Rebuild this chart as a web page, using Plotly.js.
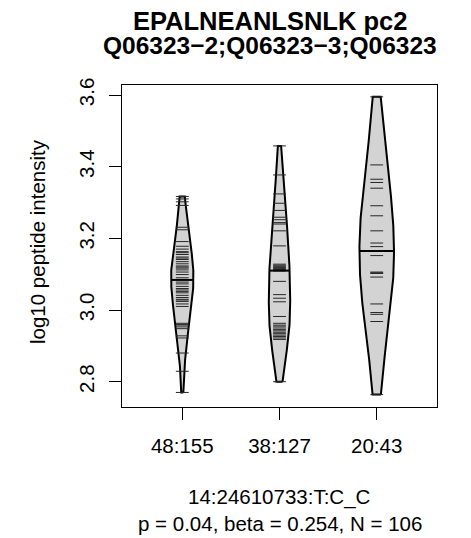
<!DOCTYPE html>
<html>
<head>
<meta charset="utf-8">
<script src="https://cdn.plot.ly/plotly-3.0.1.min.js"></script>
<style>html,body{margin:0;padding:0;background:#fff;}#chart{width:471px;height:538px;}</style>
</head>
<body>
<div id="chart"></div>
<script>
// ---- data ----
const groupPositions = [1, 2, 3];
const groupLabels = ['48:155', '38:127', '20:43'];
const bean1 = [3.317, 3.310, 3.302, 3.292, 3.231, 3.224, 3.191, 3.178, 3.170, 3.163,
  3.160, 3.155, 3.148, 3.145, 3.141, 3.135, 3.129, 3.123, 3.120, 3.117,
  3.112, 3.106, 3.099, 3.090, 3.078, 3.073, 3.066, 3.060, 3.056, 3.052,
  3.048, 3.041, 3.035, 3.030, 3.028, 3.024, 3.017, 3.010, 2.963, 2.960,
  2.958, 2.953, 2.948, 2.928, 2.922, 2.880, 2.829, 2.770];
const bean2 = [3.458, 3.377, 3.324, 3.298, 3.278, 3.259, 3.252, 3.244, 3.240, 3.221,
  3.179, 3.128, 3.125, 3.122, 3.119, 3.117, 3.115, 3.113, 3.111, 3.109,
  3.080, 3.043, 3.033, 3.023, 2.982, 2.963, 2.958, 2.955, 2.950, 2.946,
  2.942, 2.938, 2.934, 2.930, 2.926, 2.922, 2.918, 2.800];
const bean3 = [3.595, 3.405, 3.365, 3.356, 3.340, 3.291, 3.263, 3.221, 3.187, 3.177,
  3.152, 3.106, 3.104, 3.102, 3.092, 3.017, 2.993, 2.988, 2.968, 2.764];
const yTickValues = [2.8, 3.0, 3.2, 3.4, 3.6];
const yTickLabels = ['2.8', '3.0', '3.2', '3.4', '3.6'];
const titleLines = ['EPALNEANLSNLK pc2', 'Q06323\u22122;Q06323\u22123;Q06323'];
const xLabelLines = ['14:24610733:T:C_C', 'p = 0.04, beta = 0.254, N = 106'];
const yLabel = 'log10 peptide intensity';

// ---- style ----
const beans = [bean1, bean2, bean3];
const bandwidths = [0.075, 0.095, 0.165];
const maxHalfWidths = [0.115, 0.11, 0.178];
const lineHalf = 0.066;
const FONT = 'Liberation Sans, Arial, Helvetica, sans-serif';

function kde(data, bw, y) {
  let s = 0;
  for (const v of data) { const z = (y - v) / bw; s += Math.exp(-0.5 * z * z); }
  return s;
}
function median(a) {
  const s = a.slice().sort((p, q) => p - q);
  const n = s.length;
  return n % 2 ? s[(n - 1) / 2] : (s[n / 2 - 1] + s[n / 2]) / 2;
}

const traces = [];
beans.forEach((data, i) => {
  const pos = groupPositions[i];
  const lo = Math.min(...data), hi = Math.max(...data);
  const N = 200;
  const ys = [], ds = [];
  for (let k = 0; k <= N; k++) { const y = lo + (hi - lo) * k / N; ys.push(y); ds.push(kde(data, bandwidths[i], y)); }
  const dmax = Math.max(...ds);
  const hw = ds.map(d => maxHalfWidths[i] * d / dmax);
  const px = [], py = [];
  for (let k = 0; k <= N; k++) { px.push(pos + hw[k]); py.push(ys[k]); }
  for (let k = N; k >= 0; k--) { px.push(pos - hw[k]); py.push(ys[k]); }
  px.push(px[0]); py.push(py[0]);
  traces.push({type: 'scatter', mode: 'lines', x: px, y: py, fill: 'toself',
    fillcolor: '#d3d3d3', line: {color: '#000', width: 2}, hoverinfo: 'skip', showlegend: false});
  const lx = [], ly = [];
  data.forEach(v => { lx.push(pos - lineHalf, pos + lineHalf, null); ly.push(v, v, null); });
  traces.push({type: 'scatter', mode: 'lines', x: lx, y: ly,
    line: {color: '#262626', width: 1}, hoverinfo: 'skip', showlegend: false});
  const m = median(data);
  const mw = maxHalfWidths[i] * kde(data, bandwidths[i], m) / dmax;
  traces.push({type: 'scatter', mode: 'lines', x: [pos - mw, pos + mw], y: [m, m],
    line: {color: '#000', width: 2}, hoverinfo: 'skip', showlegend: false});
});

const L = 122, R = 34, T = 85, B = 131;
const plotH = 538 - T - B, plotW = 471 - L - R;
const py2paper = yPx => (538 - B - yPx) / plotH;
const px2paper = xPx => (xPx - L) / plotW;

const annotations = [
  {text: '<b>' + titleLines[0] + '</b>', x: px2paper(270), y: py2paper(21), xref: 'paper', yref: 'paper',
   xanchor: 'center', yanchor: 'middle', showarrow: false, font: {family: FONT, size: 25.5, color: '#000'}},
  {text: '<b>' + titleLines[1] + '</b>', x: px2paper(270), y: py2paper(46), xref: 'paper', yref: 'paper',
   xanchor: 'center', yanchor: 'middle', showarrow: false, font: {family: FONT, size: 24.5, color: '#000'}},
  {text: xLabelLines[0], x: 0.5, y: py2paper(497), xref: 'paper', yref: 'paper',
   xanchor: 'center', yanchor: 'middle', showarrow: false, font: {family: FONT, size: 20.5, color: '#000'}},
  {text: xLabelLines[1], x: 0.5, y: py2paper(523), xref: 'paper', yref: 'paper',
   xanchor: 'center', yanchor: 'middle', showarrow: false, font: {family: FONT, size: 20.5, color: '#000'}},
  {text: yLabel, x: px2paper(37), y: py2paper(242), xref: 'paper', yref: 'paper', textangle: -90,
   xanchor: 'center', yanchor: 'middle', showarrow: false, font: {family: FONT, size: 20.5, color: '#000'}}
];

const layout = {
  width: 471, height: 538,
  margin: {l: L, r: R, t: T, b: B, pad: 0},
  paper_bgcolor: '#fff', plot_bgcolor: '#fff',
  showlegend: false,
  font: {family: FONT, size: 20.5, color: '#000'},
  xaxis: {range: [0.38, 3.62], tickvals: groupPositions, ticktext: groupLabels,
    showgrid: false, zeroline: false, showline: true, mirror: true, linecolor: '#000', linewidth: 1,
    ticks: 'outside', ticklen: 12, tickwidth: 1, tickcolor: '#000', ticklabelstandoff: 8,
    tickfont: {family: FONT, size: 20.5, color: '#000'}, fixedrange: true},
  yaxis: {range: [2.7294, 3.628], tickvals: yTickValues, ticktext: yTickLabels, tickangle: -90,
    showgrid: false, zeroline: false, showline: true, mirror: true, linecolor: '#000', linewidth: 1,
    ticks: 'outside', ticklen: 12, tickwidth: 1, tickcolor: '#000', ticklabelstandoff: 7,
    tickfont: {family: FONT, size: 20.5, color: '#000'}, fixedrange: true},
  annotations: annotations
};

Plotly.newPlot('chart', traces, layout, {staticPlot: true, displayModeBar: false});
</script>
</body>
</html>
